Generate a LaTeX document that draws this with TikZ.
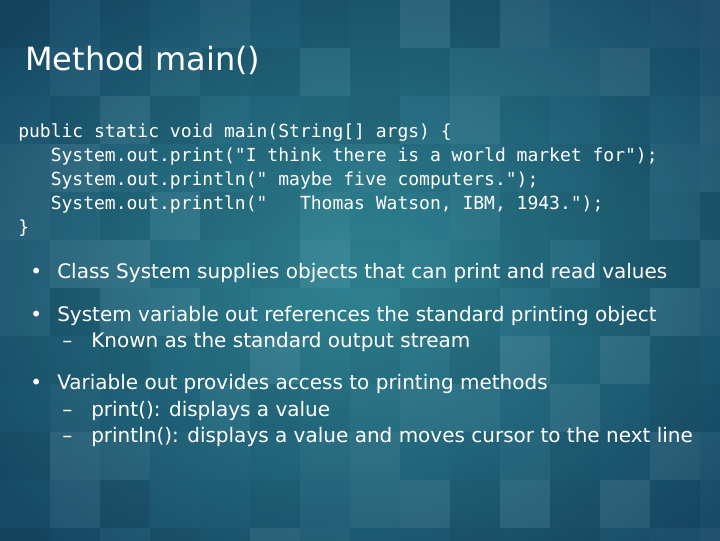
\documentclass[tikz,border=0pt]{standalone}
\usepackage{fontspec}
\setmainfont{DejaVu Sans}
\setmonofont{DejaVu Sans Mono}
\begin{document}
\begin{tikzpicture}[x=0.75pt,y=-0.75pt,
  code/.style={anchor=base west,inner sep=0,text=white,font=\ttfamily\fontsize{13.5}{15}\selectfont},
  txt/.style={anchor=base west,inner sep=0,text=white,font=\fontsize{15}{17}\selectfont},
  ttl/.style={anchor=base west,inner sep=0,text=white,font=\fontsize{24}{28}\selectfont}]
\definecolor{bgA}{HTML}{2F8492}
\definecolor{bgB}{HTML}{164A66}
\useasboundingbox (0,0) rectangle (720,540);
\shade[inner color=bgA,outer color=bgB] (-100,-100) rectangle (820,640);
\pgfmathsetseed{7}
\foreach \i in {0,...,14}{\foreach \j in {0,...,11}{
  \pgfmathsetmacro{\o}{0.08*rnd}
  \pgfmathsetmacro{\c}{rnd>0.5?1:0}
  \ifdim\c pt>0.5pt
    \fill[white,opacity=\o] (\i*50,\j*48) rectangle ++(50,48);
  \else
    \fill[black,opacity=\o] (\i*50,\j*48) rectangle ++(50,48);
  \fi
}}
\node[ttl] (t) at (25,70) {Method main()};
\node[code] (c1) at (18,137) {public static void main(String[] args) \{};
\node[code] (c2) at (18,161) {\ \ \ System.out.print("I think there is a world market for");};
\node[code] (c3) at (18,185) {\ \ \ System.out.println(" maybe five computers.");};
\node[code] (c4) at (18,209) {\ \ \ System.out.println("\ \ \ Thomas Watson, IBM, 1943.");};
\node[code] (c5) at (18,233) {\}};
\node[txt] (b1) at (30,278) {•};
\node[txt] (t1) at (57,278) {Class System supplies objects that can print and read values};
\node[txt] (b2) at (30,321) {•};
\node[txt] (t2) at (57,321) {System variable out references the standard printing object};
\node[txt] (m2) at (62,347) {–};
\node[txt] (d2) at (91,347) {Known as the standard output stream};
\node[txt] (b3) at (30,389) {•};
\node[txt] (t3) at (57,389) {Variable out provides access to printing methods};
\node[txt] (m3) at (62,416) {–};
\node[txt] (d3) at (91,416) {print(): displays a value};
\node[txt] (m4) at (62,442) {–};
\node[txt] (d4) at (91,442) {println(): displays a value and moves cursor to the next line};
\end{tikzpicture}
\end{document}
